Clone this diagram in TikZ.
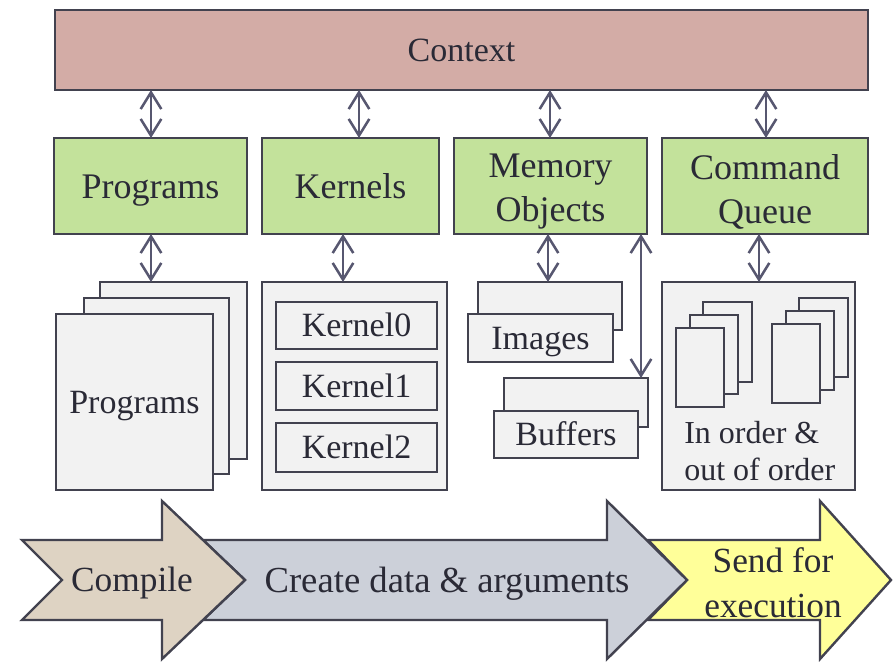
\documentclass[tikz,border=0pt]{standalone}
\usepackage{fontspec}
\setmainfont{Liberation Serif}
\usetikzlibrary{arrows.meta}
\definecolor{bc}{HTML}{42424F}
\definecolor{ac}{HTML}{575770}
\definecolor{tc}{HTML}{2A2A36}
\definecolor{ctxfill}{HTML}{D3ACA6}
\definecolor{grn}{HTML}{C3E29B}
\definecolor{pg}{HTML}{F2F2F2}
\definecolor{cmpfill}{HTML}{DED3C3}
\definecolor{crtfill}{HTML}{CCD0D9}
\definecolor{sndfill}{HTML}{FFFF99}
\newcommand{\mybox}[7]{\node[#2,anchor=north west,minimum width={(#5-#3)*0.75pt},minimum height={(#6-#4)*0.75pt}] (#1) at (#3,#4) {#7};}
\begin{document}
\begin{tikzpicture}[x=0.75pt,y=-0.75pt,
  base/.style={draw=bc,line width=2pt,outer sep=0pt,inner sep=0pt,text=tc,font=\fontsize{25.5}{30}\selectfont,text height=22.95pt,text depth=5.74pt},
  ctxbox/.style={base,fill=ctxfill},
  grnbox/.style={base,fill=grn,font=\fontsize{27}{33}\selectfont,text height=24.3pt,text depth=6.08pt},
  pagebox/.style={base,fill=pg},
  thinpage/.style={base,fill=pg,line width=1.6pt},
  chev/.style={draw=bc,line width=1.8pt,line join=miter},
  dbl/.style={draw=ac,line width=1.9pt,{Straight Barb[length=12.5pt,width=15.5pt,line width=1.9pt]}-{Straight Barb[length=12.5pt,width=15.5pt,line width=1.9pt]}},
  lbl/.style={text=tc,inner sep=0pt,font=\fontsize{26.5}{33.75}\selectfont,text height=23.85pt,text depth=5.96pt},
  mlbl/.style={text=tc,inner sep=0pt,align=center}]
\useasboundingbox (0,0) rectangle (893,661);

% Context
\mybox{ctx}{ctxbox}{55}{10}{868}{90}{Context}
% Green row
\mybox{prog}{grnbox}{54}{138}{247}{234}{Programs}
\mybox{kern}{grnbox}{262}{138}{439}{234}{Kernels}
\mybox{mem}{grnbox}{454}{138}{647}{234}{}
\mybox{cq}{grnbox}{662}{138}{868}{234}{}
\node[mlbl,font=\fontsize{27}{33}\selectfont,yshift=-4.5pt] (memt) at (mem.center) {Memory\\Objects};
\node[mlbl,font=\fontsize{27}{33}\selectfont,yshift=-4.5pt] (cqt) at (cq.center) {Command\\Queue};

% Programs stack
\mybox{progc}{pagebox}{100}{282}{247}{459}{}
\mybox{progb}{pagebox}{84}{298}{229}{474}{}
\mybox{proga}{pagebox}{56}{314}{213}{490}{Programs}

% Kernels container
\mybox{kbox}{pagebox}{262}{282}{447}{490}{}
\mybox{k0}{pagebox}{276}{302}{437}{349}{Kernel0}
\mybox{k1}{pagebox}{276}{362}{437}{410}{Kernel1}
\mybox{k2}{pagebox}{276}{423}{437}{472}{Kernel2}

% Memory objects
\mybox{imgb}{pagebox}{478}{282}{622}{330}{}
\mybox{img}{pagebox}{468}{314}{613}{362}{Images}
\mybox{bufb}{pagebox}{504}{378}{648}{427}{}
\mybox{buf}{pagebox}{494}{411}{638}{458}{Buffers}

% Command queue container
\mybox{qbox}{pagebox}{662}{282}{855}{490}{}
\mybox{q1c}{thinpage}{703}{302}{752}{382}{}
\mybox{q1b}{thinpage}{690}{315}{738}{394}{}
\mybox{q1a}{thinpage}{676}{328}{724}{407}{}
\mybox{q2c}{thinpage}{799}{298}{848}{377}{}
\mybox{q2b}{thinpage}{786}{311}{834}{390}{}
\mybox{q2a}{thinpage}{772}{324}{820}{403}{}
\node[text=tc,inner sep=0pt,align=left,anchor=base west,font=\fontsize{24}{27.75}\selectfont] (qtxt) at (684,480) {In order \&\\out of order};

% Double arrows
\draw[dbl] (ctx.south -| 151,0) -- (prog.north -| 151,0);
\draw[dbl] (ctx.south -| 359,0) -- (kern.north -| 359,0);
\draw[dbl] (ctx.south -| 550,0) -- (mem.north -| 550,0);
\draw[dbl] (ctx.south -| 766,0) -- (cq.north -| 766,0);
\draw[dbl] (prog.south -| 151,0) -- (progc.north -| 151,0);
\draw[dbl] (kern.south -| 343,0) -- (kbox.north -| 343,0);
\draw[dbl] (mem.south -| 548,0) -- (imgb.north -| 548,0);
\draw[dbl] (mem.south -| 641,0) -- (bufb.north -| 641,0);
\draw[dbl] (cq.south -| 759,0) -- (qbox.north -| 759,0);

% Process chevron arrows
\draw[chev,fill=sndfill] (648,540) -- (820,540) -- (820,501) -- (891,580) -- (820,659) -- (820,620) -- (648,620) -- (687,580) -- cycle;
\draw[chev,fill=crtfill] (203,540) -- (607,540) -- (607,501) -- (687,580) -- (607,659) -- (607,620) -- (203,620) -- (245,580) -- cycle;
\draw[chev,fill=cmpfill] (22,540) -- (162,540) -- (162,501) -- (245,580) -- (162,659) -- (162,620) -- (22,620) -- (62,580) -- cycle;
\node[lbl] (tcomp) at (132,580) {Compile};
\node[lbl,font=\fontsize{27.5}{33}\selectfont,text height=24.75pt,text depth=6.19pt] (tcreate) at (447,580) {Create data \& arguments};
\node[mlbl,font=\fontsize{26.5}{33.75}\selectfont] (tsend) at (773,583) {Send for\\execution};
\end{tikzpicture}
\end{document}
